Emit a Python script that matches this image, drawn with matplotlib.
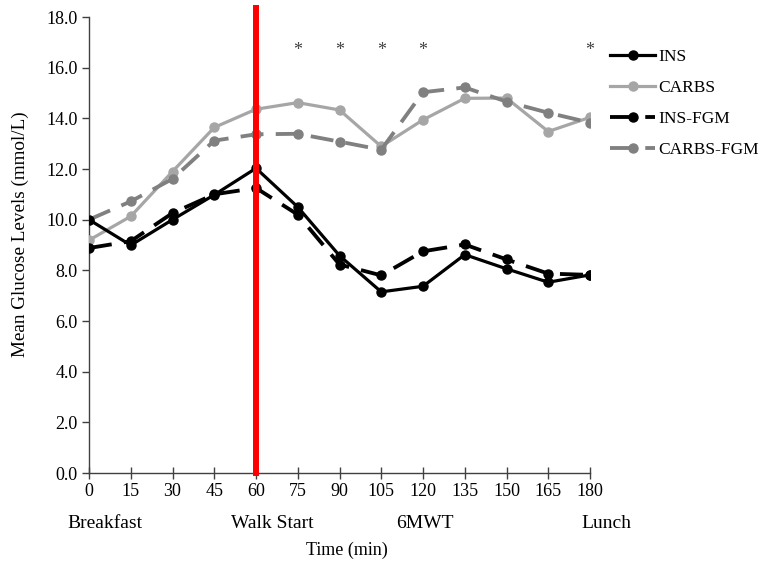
import matplotlib
matplotlib.use("Agg")
import matplotlib.pyplot as plt
import matplotlib.transforms as mtransforms

plt.rcParams['font.family'] = ['Liberation Serif', 'DejaVu Serif']

time = [0, 15, 30, 45, 60, 75, 90, 105, 120, 135, 150, 165, 180]
ins = [10.0, 8.99, 10.0, 10.98, 12.03, 10.5, 8.58, 7.15, 7.37, 8.62, 8.06, 7.53, 7.82]
carbs = [9.19, 10.13, 11.9, 13.64, 14.36, 14.62, 14.33, 12.89, 13.94, 14.79, 14.8, 13.48, 14.04]
ins_fgm = [8.88, 9.15, 10.26, 11.0, 11.25, 10.2, 8.23, 7.8, 8.75, 9.02, 8.43, 7.87, 7.82]
carbs_fgm = [10.0, 10.72, 11.61, 13.12, 13.37, 13.39, 13.08, 12.76, 15.03, 15.22, 14.66, 14.22, 13.83]
star_times = [75, 90, 105, 120, 180]
star_level = 16.66
event_labels = ["Breakfast", "Walk Start", "6MWT", "Lunch"]
event_pos = [5.9, 65.7, 120.7, 185.8]
walk_start = 60

fig = plt.figure(figsize=(7.66, 5.62), dpi=100)
ax = fig.add_axes([89 / 766, 1 - 473 / 562, 501 / 766, 456 / 562])

lw = 2.3
ms = 6.5
dash = (6, 3.2)
ax.plot(time, ins, color='black', lw=lw, marker='o', ms=ms, label='INS', zorder=4)
ax.plot(time, carbs, color='#A6A6A6', lw=lw, marker='o', ms=ms, label='CARBS', zorder=3)
ax.plot(time, ins_fgm, color='black', lw=lw * 1.2, marker='o', ms=ms, label='INS-FGM',
        linestyle=(0, dash), zorder=4)
ax.plot(time, carbs_fgm, color='#808080', lw=lw * 1.2, marker='o', ms=ms, label='CARBS-FGM',
        linestyle=(0, dash), zorder=3)

ax.axvline(walk_start, ymin=0, ymax=1.02, color='#FF0000', lw=4.3, clip_on=False, zorder=5)

for t in star_times:
    ax.text(t, star_level, '*', ha='center', va='center', fontsize=13, color='#404040',
            clip_on=False)

ax.set_xlim(0, 180)
ax.set_ylim(0, 18)
ax.set_xticks(time)
ax.set_xticklabels([str(t) for t in time])
yt = [0, 2, 4, 6, 8, 10, 12, 14, 16, 18]
ax.set_yticks(yt)
ax.set_yticklabels([f"{v:.1f}" for v in yt])
ax.tick_params(axis='x', direction='inout', length=8, width=1, labelsize=13, color='#404040', pad=3)
ax.tick_params(axis='y', direction='out', length=5, width=1, labelsize=13, color='#404040', pad=3)
for s in ['top', 'right']:
    ax.spines[s].set_visible(False)
for s in ['left', 'bottom']:
    ax.spines[s].set_color('#404040')
    ax.spines[s].set_linewidth(1)

fig.text(20 / 766, 1 - 234 / 562, 'Mean Glucose Levels (mmol/L)', rotation=90,
         ha='center', va='center', fontsize=13.8)
fig.text(347 / 766, 1 - 550 / 562, 'Time (min)', ha='center', va='center', fontsize=13)

trans = mtransforms.blended_transform_factory(ax.transData, fig.transFigure)
for lab, p in zip(event_labels, event_pos):
    ax.text(p, 1 - 523 / 562, lab, transform=trans, ha='center', va='center', fontsize=14)

leg = ax.legend(loc='upper left', bbox_to_anchor=(610 / 766, 1 - 49 / 562),
                bbox_transform=fig.transFigure, frameon=False, fontsize=12.5,
                handlelength=2.6, handletextpad=0.2, labelspacing=0.85, borderaxespad=0,
                borderpad=0)

fig.savefig('out.png', dpi=100)
